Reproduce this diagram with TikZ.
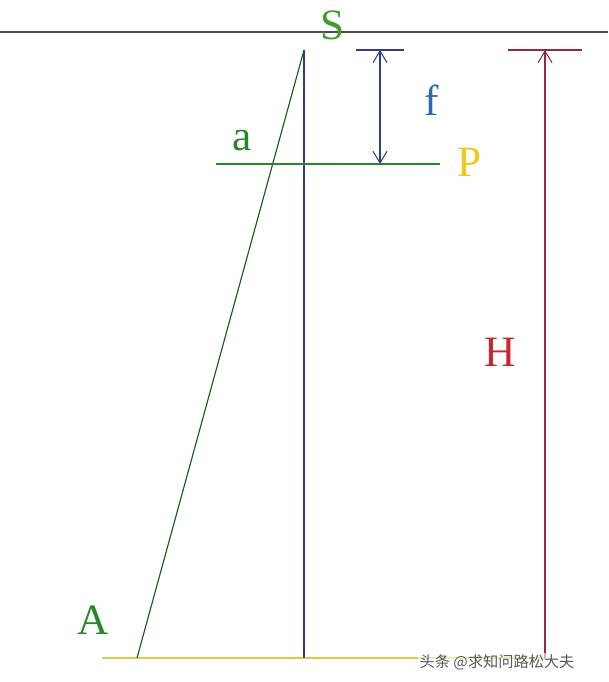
\documentclass[tikz,border=0pt]{standalone}
\usepackage{fontspec}
\setmainfont{Liberation Serif}
\newfontfamily\cjk{Noto Sans CJK SC}
\usetikzlibrary{arrows.meta}

\definecolor{lgreen}{RGB}{40,135,40}
\definecolor{sgreen}{RGB}{60,160,40}
\definecolor{lblue}{RGB}{45,60,140}
\definecolor{fblue}{RGB}{40,105,175}
\definecolor{pyellow}{RGB}{240,200,30}
\definecolor{hred}{RGB}{200,40,45}
\definecolor{lred}{RGB}{150,40,70}
\definecolor{byellow}{RGB}{215,205,80}

\tikzset{
	letter/.style={font=\fontsize{37}{42}\selectfont, inner sep=0pt},
	dim/.style={line width=0.9pt, -{Straight Barb[length=10pt, width=12pt]}},
}

\begin{document}
\begin{tikzpicture}[x=0.03cm, y=-0.03cm]

	\useasboundingbox (0,0) rectangle (608,682);

	% points
	\coordinate (S) at (304,50);
	\coordinate (O) at (304,658);
	\coordinate (A) at (137,658);
	\coordinate (Pl) at (216,164);
	\coordinate (Pr) at (440,164);
	\coordinate (Hb) at (545,658);
	\coordinate (Ht) at (545,50);
	\coordinate (ft) at (380,50);
	\coordinate (fb) at (380,164);

	% horizon and ground
	\draw [line width=1pt, black!70] (0,32) -- (608,32);
	\draw [line width=1pt, byellow] (102,658) -- (Hb);

	% axis and ray
	\draw [line width=1pt, lblue] (S) -- (O);
	\draw [line width=1pt, lgreen!70!black] (S) -- (A);

	% image plane
	\draw [line width=1pt, lgreen] (Pl) -- (Pr);

	% f
	\draw [line width=0.9pt, lblue] (356,50) -- (404,50);
	\draw [dim, lblue, {Straight Barb[length=10pt, width=12pt]}-{Straight Barb[length=10pt, width=12pt]}] (ft) -- (fb);

	% H
	\draw [line width=0.9pt, lred] (508,50) -- (582,50);
	\draw [dim, lred] (Hb) -- (Ht);

	% labels
	\node [letter, sgreen] (s-lbl) at (333,25) {S};
	\node [letter, lgreen] (a-lbl) at (242,141) {a};
	\node [letter, pyellow] (p-lbl) at (470,162) {P};
	\node [letter, fblue] (f-lbl) at (432,100) {f};
	\node [letter, hred] (h-lbl) at (500,352) {H};
	\node [letter, lgreen] (A-lbl) at (93,620) {A};

	% watermark
	\node [font=\cjk\fontsize{13}{15}\selectfont, text=black!65, fill=white, fill opacity=0.6, text opacity=1, inner sep=1pt] (mark) at (497,662) {头条 @求知问路松大夫};

\end{tikzpicture}
\end{document}
